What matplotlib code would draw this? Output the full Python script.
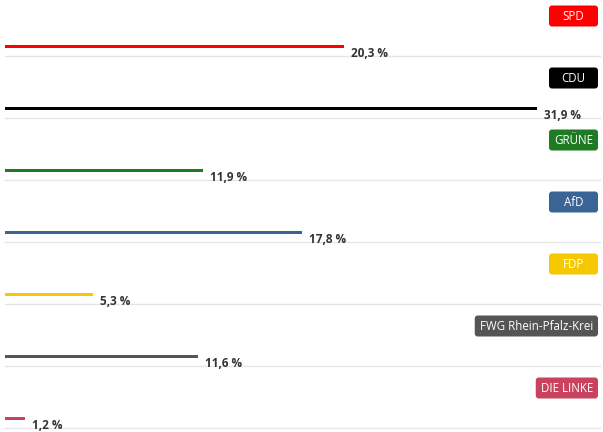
import numpy as np
import matplotlib.pyplot as plt
from matplotlib.patches import FancyBboxPatch
from matplotlib.transforms import IdentityTransform

parties = ['SPD', 'CDU', 'GRÜNE', 'AfD', 'FDP', 'FWG Rhein-Pfalz-Krei', 'DIE LINKE']
shares = [20.3, 31.9, 11.9, 17.8, 5.3, 11.6, 1.2]
labels = ['20,3 %', '31,9 %', '11,9 %', '17,8 %', '5,3 %', '11,6 %', '1,2 %']
colors = ['#ff0000', '#000000', '#1e7b24', '#3b6496', '#f5c800', '#555555', '#c9435f']

plt.rcParams['font.family'] = ['Open Sans', 'DejaVu Sans']

W, H = 603, 432
fig = plt.figure(figsize=(W / 100, H / 100), dpi=100)
ax = fig.add_axes([0, 0, 1, 1])
ax.axis('off')

# pixel layout: 0 % at x=5, max at x=537; rows 62 px apart, first bar at y=46
row = 62.0
scale = (537 - 5) / max(shares)
ax.set_xlim(-5 / scale, (W - 5) / scale)
ax.set_ylim((H - 46) / row, -46 / row)

idx = np.arange(len(parties))
ax.barh(idx, shares, height=3 / row, color=colors, left=0)

# thin separators under each row
for i in idx:
    ax.plot([0, (600 - 5) / scale], [i + 10 / row] * 2, color='#e6e6e6', lw=1, zorder=0)

for i, (v, lab) in enumerate(zip(shares, labels)):
    ax.annotate(lab, (v, i), xytext=(7, -11), textcoords='offset pixels',
                ha='left', va='baseline', fontsize=8.5, fontweight='bold', color='#333333')

# party badges at the right
fig.canvas.draw()
r = fig.canvas.get_renderer()
for i, (name, c) in enumerate(zip(parties, colors)):
    yd = ax.transData.transform((0, i - 30 / row))[1]
    t = fig.text(0, 0, name, fontsize=8.3, color='white', ha='center', va='baseline',
                 transform=IdentityTransform())
    tw = t.get_window_extent(r).width
    w = max(49, tw + 10)
    x0 = 598 - w
    fig.patches.append(FancyBboxPatch((x0, yd - 10.5), w, 21,
                                      boxstyle='round,pad=0,rounding_size=3',
                                      fc=c, ec='none', transform=IdentityTransform(),
                                      figure=fig))
    t.set_position((x0 + w / 2, yd - 4))
    t.set_zorder(5)

fig.savefig('out.png', dpi=100)
